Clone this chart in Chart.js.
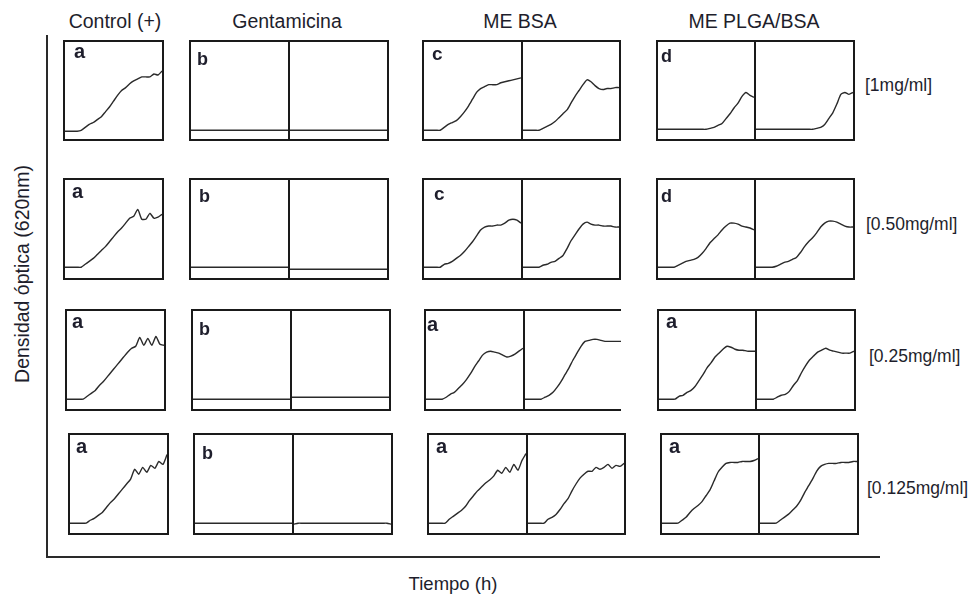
<!DOCTYPE html>
<html lang="es">
<head>
<meta charset="utf-8">
<title>Densidad óptica frente al tiempo</title>
<script src="https://cdn.jsdelivr.net/npm/chart.js@4.4.1/dist/chart.umd.min.js"></script>
<style>
  html, body { margin: 0; padding: 0; background: #fff; }
  #lienzo {
    position: relative; width: 971px; height: 599px; overflow: hidden;
    font-family: "Liberation Sans", Arial, sans-serif; color: #1e1e2c;
  }
  .txt { position: absolute; white-space: nowrap; line-height: 1; }
  .caja { position: absolute; border: 2px solid #1a1a1a; }
  .caja canvas { position: absolute; top: 0; }
  .separador { position: absolute; top: 0; width: 2px; height: 100%; background: #1a1a1a; }
  .letra { position: absolute; font-weight: bold; line-height: 1; white-space: nowrap; }
  .eje { position: absolute; background: #2a2a2a; }
</style>
</head>
<body>
<div id="lienzo"></div>
<script>
/* Tiempo de lectura (h) */
const HORAS = [0, 1, 2, 3, 4, 5, 6, 7, 8, 9, 10, 11, 12, 13, 14, 15, 16, 17, 18, 19, 20, 21, 22, 23, 24];

const TRATAMIENTOS = ["Control (+)", "Gentamicina", "ME BSA", "ME PLGA/BSA"];
const CONCENTRACIONES = ["[1mg/ml]", "[0.50mg/ml]", "[0.25mg/ml]", "[0.125mg/ml]"];
const LETRAS = [
  ["a", "b", "c", "d"],
  ["a", "b", "c", "d"],
  ["a", "b", "a", "a"],
  ["a", "b", "a", "a"],
];

/* Densidad óptica (620nm), escala relativa 0-1 de cada recuadro */
const control_1 = [0.08, 0.08, 0.08, 0.08, 0.09, 0.12, 0.15, 0.17, 0.20, 0.23, 0.28, 0.33, 0.39, 0.45, 0.50, 0.53, 0.57, 0.60, 0.62, 0.64, 0.64, 0.64, 0.67, 0.66, 0.70];
const control_050 = [0.11, 0.11, 0.11, 0.11, 0.11, 0.14, 0.17, 0.20, 0.24, 0.28, 0.32, 0.37, 0.42, 0.47, 0.51, 0.56, 0.61, 0.63, 0.70, 0.60, 0.60, 0.66, 0.61, 0.62, 0.65];
const control_025 = [0.10, 0.10, 0.10, 0.10, 0.10, 0.13, 0.16, 0.19, 0.24, 0.28, 0.33, 0.38, 0.43, 0.48, 0.53, 0.58, 0.62, 0.64, 0.73, 0.65, 0.72, 0.65, 0.74, 0.66, 0.65];
const control_0125 = [0.10, 0.10, 0.10, 0.10, 0.10, 0.13, 0.15, 0.18, 0.21, 0.26, 0.31, 0.35, 0.40, 0.45, 0.50, 0.55, 0.65, 0.60, 0.67, 0.62, 0.69, 0.66, 0.73, 0.70, 0.80];

const genta_1a = [0.09, 0.09, 0.09, 0.09, 0.09, 0.09, 0.09, 0.09, 0.09, 0.09, 0.09, 0.09, 0.09, 0.09, 0.09, 0.09, 0.09, 0.09, 0.09, 0.09, 0.09, 0.09, 0.09, 0.09, 0.09];
const genta_1b = [0.09, 0.09, 0.09, 0.09, 0.09, 0.09, 0.09, 0.09, 0.09, 0.09, 0.09, 0.09, 0.09, 0.09, 0.09, 0.09, 0.09, 0.09, 0.09, 0.09, 0.09, 0.09, 0.09, 0.09, 0.09];
const genta_050a = [0.11, 0.11, 0.11, 0.11, 0.11, 0.11, 0.11, 0.11, 0.11, 0.11, 0.11, 0.11, 0.11, 0.11, 0.11, 0.11, 0.11, 0.11, 0.11, 0.11, 0.11, 0.11, 0.11, 0.11, 0.11];
const genta_050b = [0.09, 0.09, 0.09, 0.09, 0.09, 0.09, 0.09, 0.09, 0.09, 0.09, 0.09, 0.09, 0.09, 0.09, 0.09, 0.09, 0.09, 0.09, 0.09, 0.09, 0.09, 0.09, 0.09, 0.09, 0.09];
const genta_025a = [0.10, 0.10, 0.10, 0.10, 0.10, 0.10, 0.10, 0.10, 0.10, 0.10, 0.10, 0.10, 0.10, 0.10, 0.10, 0.10, 0.10, 0.10, 0.10, 0.10, 0.10, 0.10, 0.10, 0.10, 0.10];
const genta_025b = [0.12, 0.12, 0.12, 0.12, 0.12, 0.12, 0.12, 0.12, 0.12, 0.12, 0.12, 0.12, 0.12, 0.12, 0.12, 0.12, 0.12, 0.12, 0.12, 0.12, 0.12, 0.12, 0.12, 0.12, 0.12];
const genta_0125a = [0.10, 0.10, 0.10, 0.10, 0.10, 0.10, 0.10, 0.10, 0.10, 0.10, 0.10, 0.10, 0.10, 0.10, 0.10, 0.10, 0.10, 0.10, 0.10, 0.10, 0.10, 0.10, 0.10, 0.10, 0.10];
const genta_0125b = [0.09, 0.10, 0.10, 0.10, 0.10, 0.10, 0.10, 0.10, 0.10, 0.10, 0.10, 0.10, 0.10, 0.10, 0.10, 0.10, 0.10, 0.10, 0.10, 0.10, 0.10, 0.10, 0.10, 0.10, 0.09];

const bsa_1a = [0.09, 0.09, 0.09, 0.09, 0.09, 0.12, 0.15, 0.17, 0.19, 0.23, 0.28, 0.34, 0.41, 0.48, 0.52, 0.54, 0.56, 0.56, 0.56, 0.58, 0.59, 0.60, 0.61, 0.62, 0.63];
const bsa_1b = [0.09, 0.09, 0.09, 0.09, 0.09, 0.11, 0.13, 0.15, 0.18, 0.22, 0.26, 0.30, 0.37, 0.44, 0.50, 0.56, 0.61, 0.59, 0.55, 0.52, 0.51, 0.52, 0.52, 0.53, 0.53];
const bsa_050a = [0.11, 0.11, 0.11, 0.11, 0.11, 0.14, 0.15, 0.17, 0.20, 0.23, 0.27, 0.32, 0.37, 0.43, 0.49, 0.52, 0.53, 0.53, 0.54, 0.54, 0.56, 0.59, 0.60, 0.59, 0.56];
const bsa_050b = [0.11, 0.11, 0.11, 0.11, 0.11, 0.13, 0.14, 0.16, 0.17, 0.20, 0.23, 0.30, 0.38, 0.44, 0.50, 0.55, 0.57, 0.55, 0.54, 0.54, 0.53, 0.53, 0.53, 0.52, 0.52];
const bsa_025a = [0.10, 0.10, 0.10, 0.10, 0.10, 0.12, 0.15, 0.17, 0.21, 0.25, 0.30, 0.36, 0.43, 0.49, 0.55, 0.58, 0.59, 0.58, 0.57, 0.55, 0.53, 0.54, 0.56, 0.59, 0.62];
const bsa_025b = [0.10, 0.10, 0.10, 0.10, 0.10, 0.12, 0.14, 0.17, 0.22, 0.28, 0.35, 0.42, 0.50, 0.57, 0.64, 0.69, 0.70, 0.71, 0.71, 0.70, 0.69, 0.69, 0.69, 0.69, 0.69];
const bsa_0125a = [0.10, 0.10, 0.10, 0.10, 0.10, 0.14, 0.17, 0.20, 0.23, 0.27, 0.33, 0.38, 0.43, 0.47, 0.51, 0.54, 0.58, 0.64, 0.61, 0.67, 0.62, 0.70, 0.64, 0.74, 0.81];
const bsa_0125b = [0.10, 0.10, 0.10, 0.10, 0.10, 0.14, 0.16, 0.19, 0.24, 0.30, 0.35, 0.43, 0.50, 0.56, 0.60, 0.63, 0.63, 0.67, 0.65, 0.67, 0.70, 0.66, 0.69, 0.68, 0.71];

const plga_1a = [0.10, 0.10, 0.10, 0.10, 0.10, 0.10, 0.10, 0.10, 0.10, 0.10, 0.10, 0.10, 0.10, 0.11, 0.12, 0.14, 0.16, 0.21, 0.26, 0.32, 0.37, 0.44, 0.48, 0.45, 0.43];
const plga_1b = [0.10, 0.10, 0.10, 0.10, 0.10, 0.10, 0.10, 0.10, 0.10, 0.10, 0.10, 0.10, 0.10, 0.10, 0.10, 0.11, 0.12, 0.15, 0.21, 0.27, 0.36, 0.46, 0.48, 0.46, 0.48];
const plga_050a = [0.11, 0.11, 0.11, 0.11, 0.11, 0.13, 0.15, 0.17, 0.18, 0.19, 0.21, 0.25, 0.30, 0.36, 0.40, 0.44, 0.49, 0.53, 0.56, 0.56, 0.55, 0.53, 0.52, 0.51, 0.49];
const plga_050b = [0.11, 0.11, 0.11, 0.11, 0.11, 0.12, 0.14, 0.16, 0.17, 0.19, 0.21, 0.26, 0.32, 0.37, 0.41, 0.46, 0.52, 0.56, 0.58, 0.58, 0.57, 0.55, 0.53, 0.52, 0.52];
const plga_025a = [0.10, 0.10, 0.10, 0.10, 0.10, 0.13, 0.14, 0.17, 0.19, 0.23, 0.29, 0.35, 0.42, 0.47, 0.53, 0.57, 0.61, 0.64, 0.63, 0.61, 0.60, 0.60, 0.59, 0.59, 0.59];
const plga_025b = [0.10, 0.10, 0.10, 0.10, 0.10, 0.12, 0.14, 0.15, 0.18, 0.24, 0.29, 0.37, 0.44, 0.50, 0.54, 0.58, 0.60, 0.62, 0.60, 0.59, 0.58, 0.57, 0.57, 0.57, 0.59];
const plga_0125a = [0.10, 0.10, 0.10, 0.10, 0.10, 0.13, 0.16, 0.21, 0.25, 0.28, 0.32, 0.38, 0.44, 0.53, 0.62, 0.67, 0.71, 0.72, 0.72, 0.72, 0.73, 0.73, 0.73, 0.74, 0.76];
const plga_0125b = [0.10, 0.10, 0.10, 0.10, 0.10, 0.13, 0.16, 0.19, 0.23, 0.27, 0.33, 0.41, 0.48, 0.55, 0.63, 0.68, 0.70, 0.71, 0.71, 0.71, 0.72, 0.72, 0.72, 0.73, 0.73];

/* Fila = concentración, columna = tratamiento */
const SERIES = [
  [[control_1], [genta_1a, genta_1b], [bsa_1a, bsa_1b], [plga_1a, plga_1b]],
  [[control_050], [genta_050a, genta_050b], [bsa_050a, bsa_050b], [plga_050a, plga_050b]],
  [[control_025], [genta_025a, genta_025b], [bsa_025a, bsa_025b], [plga_025a, plga_025b]],
  [[control_0125], [genta_0125a, genta_0125b], [bsa_0125a, bsa_0125b], [plga_0125a, plga_0125b]],
];

/* Disposición de los recuadros (px) */
const FILA_Y = [41, 179, 310, 434];
const FILA_ALTO = [99, 100, 100, 100];
const COL_X = [
  [64, 190, 423, 657],
  [64, 190, 423, 657],
  [66, 192, 425, 658],
  [69, 194, 428, 661],
];
const COL_ANCHO = [99, 198, 197, 197];
const COL_DIVISION = [0, 99, 99, 98];
const LETRA_POS = [
  [[11, 17], [8, 24], [10, 19], [5, 21]],
  [[9, 19], [10, 23], [12, 21], [5, 23]],
  [[7, 18], [8, 25], [3, 21], [9, 18]],
  [[8, 19], [9, 25], [9, 19], [9, 19]],
];
const LETRA_TAM = { a: 20, b: 18, c: 19, d: 18 };

const lienzo = document.getElementById("lienzo");

// coloca un texto a partir de su línea base
const texto = (str, x, base, tam, centrado) => {
  const el = document.createElement("div");
  el.className = "txt";
  el.textContent = str;
  el.style.fontSize = tam + "px";
  el.style.left = x + "px";
  el.style.top = (base - 0.8465 * tam) + "px";
  if (centrado) el.style.transform = "translateX(-50%)";
  lienzo.appendChild(el);
  return el;
};

const linea = (x, y, w, h) => {
  const el = document.createElement("div");
  el.className = "eje";
  Object.assign(el.style, { left: x + "px", top: y + "px", width: w + "px", height: h + "px" });
  lienzo.appendChild(el);
};

const crearPanel = (contenedor, x, ancho, alto, valores) => {
  const canvas = document.createElement("canvas");
  canvas.width = ancho;
  canvas.height = alto;
  canvas.style.left = x + "px";
  contenedor.appendChild(canvas);

  return new Chart(canvas.getContext("2d"), {
    type: "line",
    data: {
      labels: HORAS,
      datasets: [
        {
          data: valores,
          borderColor: "#2a2a2a",
          borderWidth: 1.4,
          pointRadius: 0,
          tension: 0.2,
          fill: false,
        },
      ],
    },
    options: {
      responsive: false,
      animation: false,
      events: [],
      layout: { padding: 0 },
      plugins: {
        legend: { display: false },
        tooltip: { enabled: false },
      },
      scales: {
        x: { display: false },
        y: { display: false, min: 0, max: 1 },
      },
    },
  });
};

// ejes generales de la figura
linea(46, 35, 2, 523);
linea(46, 556, 834, 2);

// títulos de columna
const TITULO_X = [115, 287, 520, 754];
TRATAMIENTOS.forEach((t, i) => texto(t, TITULO_X[i], 28.5, 19.5, true));

// concentraciones a la derecha
const CONC_POS = [[865, 91.5], [866, 231], [869, 363], [867, 495]];
CONCENTRACIONES.forEach((c, i) => texto(c, CONC_POS[i][0], CONC_POS[i][1], 17.5, false));

// títulos de ejes
texto("Tiempo (h)", 453, 591, 18.5, true);
const yTitulo = texto("Densidad óptica (620nm)", 23, 0, 19.5, false);
yTitulo.style.top = "274px";
yTitulo.style.transform = "translate(-50%, -50%) rotate(-90deg)";

SERIES.forEach((fila, r) => {
  fila.forEach((curvas, c) => {
    const x0 = COL_X[r][c];
    const y0 = FILA_Y[r];
    const ancho = COL_ANCHO[c];
    const alto = FILA_ALTO[r];

    const caja = document.createElement("div");
    caja.className = "caja";
    Object.assign(caja.style, {
      left: (x0 - 1) + "px",
      top: (y0 - 1) + "px",
      width: (ancho - 2) + "px",
      height: (alto - 2) + "px",
    });
    // el recuadro de ME BSA a 0.25 mg/ml no tiene el borde derecho completo
    if (r === 2 && c === 2) caja.style.borderRight = "none";
    lienzo.appendChild(caja);

    if (curvas.length === 1) {
      crearPanel(caja, 0, ancho - 2, alto - 2, curvas[0]);
    } else {
      const d = COL_DIVISION[c];
      crearPanel(caja, 0, d - 2, alto - 2, curvas[0]);
      const sep = document.createElement("div");
      sep.className = "separador";
      sep.style.left = (d - 2) + "px";
      caja.appendChild(sep);
      crearPanel(caja, d, ancho - d - 2, alto - 2, curvas[1]);
    }

    const letra = LETRAS[r][c];
    const tam = LETRA_TAM[letra];
    const el = document.createElement("div");
    el.className = "letra";
    el.textContent = letra;
    el.style.fontSize = tam + "px";
    el.style.left = (LETRA_POS[r][c][0] - 2) + "px";
    el.style.top = (LETRA_POS[r][c][1] - 1 - 0.8465 * tam) + "px";
    caja.appendChild(el);
  });
});
</script>
</body>
</html>
